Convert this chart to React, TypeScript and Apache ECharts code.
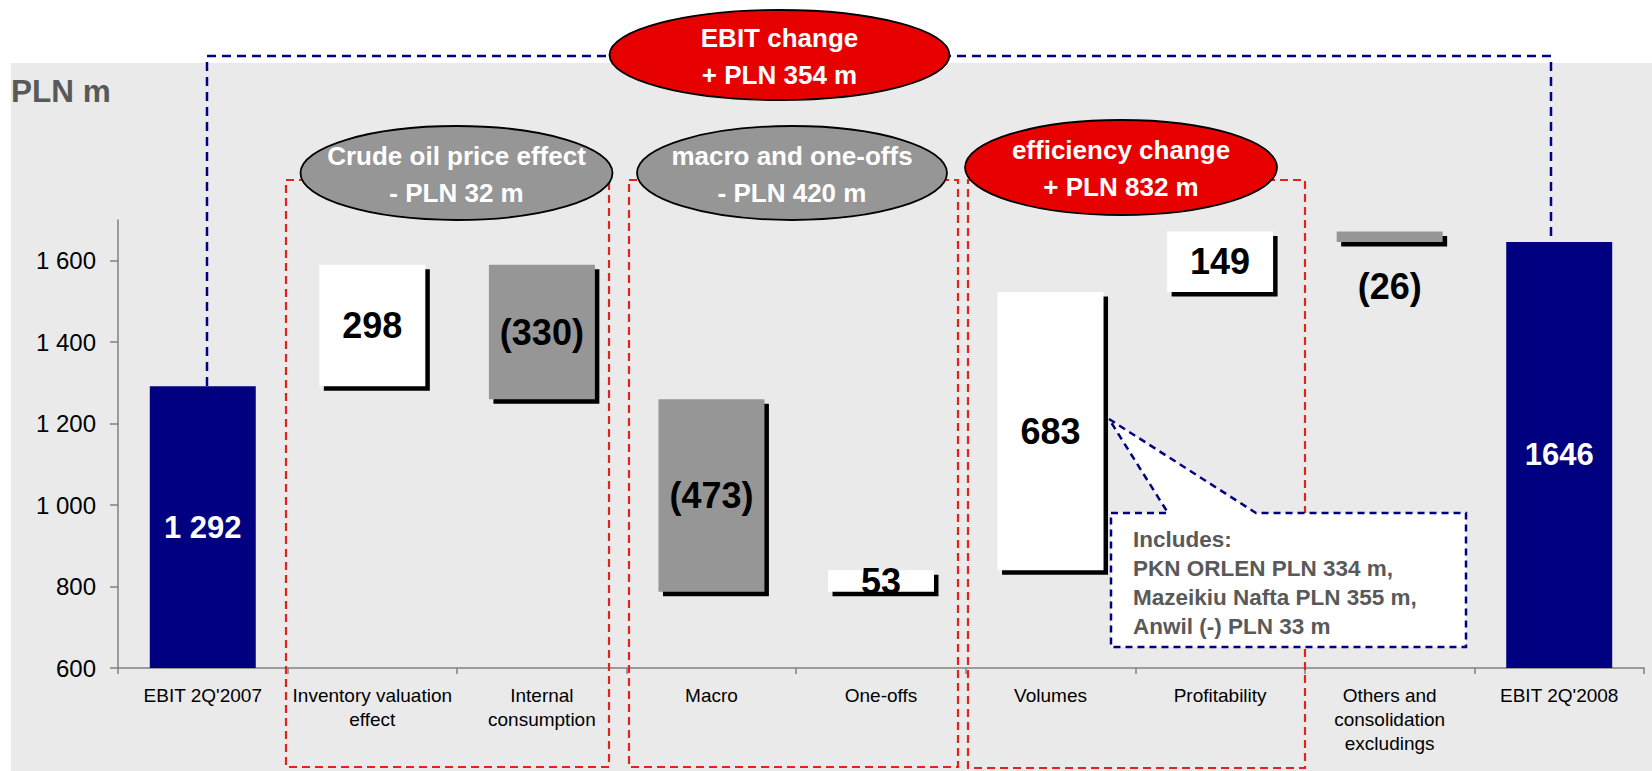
import React, { useEffect, useRef } from "react";
import * as echarts from "echarts";

const categories = [
  "EBIT 2Q'2007",
  "Inventory valuation\neffect",
  "Internal\nconsumption",
  "Macro",
  "One-offs",
  "Volumes",
  "Profitability",
  "Others and\nconsolidation\nexcludings",
  "EBIT 2Q'2008",
];
const changes = [1292, 298, -330, -473, 53, 683, 149, -26, 1646];
const isTotal = [true, false, false, false, false, false, false, false, true];
const valueLabels = ["1 292", "298", "(330)", "(473)", "53", "683", "149", "(26)", "1646"];
const yTicks = [600, 800, 1000, 1200, 1400, 1600];
const yMin = 600;
const yMax = 1700;

const headline = ["EBIT change", "+ PLN 354 m"];
const groupTitles = [
  ["Crude oil price effect", "- PLN 32 m"],
  ["macro and one-offs", "- PLN 420 m"],
  ["efficiency change", "+ PLN 832 m"],
];
const calloutLines = [
  "Includes:",
  "PKN ORLEN PLN 334 m,",
  "Mazeikiu Nafta PLN 355 m,",
  "Anwil (-) PLN 33 m",
];
const unitTitle = "PLN m";

const FONT = '"Liberation Sans", Arial, sans-serif';
const NAVY = "#000080";
const GREY = "#969696";
const RED = "#E60000";
const RED_LINE = "#E2231A";

function buildData() {
  let run = 0;
  return changes.map((d, i) => {
    if (isTotal[i]) {
      run = d;
      return [i, yMin, d, 0];
    }
    const lo = d >= 0 ? run : run + d;
    const hi = d >= 0 ? run + d : run;
    run += d;
    return [i, lo, hi, d >= 0 ? 1 : 2];
  });
}

export default function App() {
  const ref = useRef<HTMLDivElement>(null);

  useEffect(() => {
    if (!ref.current) return;
    const chart = echarts.init(ref.current, undefined, { renderer: "svg" });
    const data = buildData();

    const ellipse = (cx: number, cy: number, rx: number, ry: number, fill: string, lines: string[]) => [
      {
        type: "ellipse",
        z: 20,
        shape: { cx, cy, rx, ry },
        style: { fill, stroke: "#000", lineWidth: 1.8 },
      },
      {
        type: "text",
        z: 21,
        x: cx,
        y: cy + 1,
        style: {
          text: lines.join("\n"),
          fill: "#fff",
          font: `bold 26px ${FONT}`,
          align: "center",
          verticalAlign: "middle",
          lineHeight: 37,
        },
      },
    ];

    const redRect = (x1: number, x2: number, y1: number, y2: number) => ({
      type: "rect",
      z: 5,
      shape: { x: x1, y: y1, width: x2 - x1, height: y2 - y1 },
      style: { fill: "none", stroke: RED_LINE, lineWidth: 2.2, lineDash: [8, 5] },
    });

    const option: any = {
      animation: false,
      grid: { left: 118, right: 8, top: 220, height: 448 },
      xAxis: {
        type: "category",
        data: categories,
        axisLine: { lineStyle: { color: "#808080", width: 1.5 } },
        axisTick: { show: true, length: 6, interval: 0, lineStyle: { color: "#808080", width: 1.5 } },
        axisLabel: {
          interval: 0,
          color: "#000",
          fontFamily: FONT,
          fontSize: 19,
          lineHeight: 24,
          margin: 15,
        },
      },
      yAxis: {
        type: "value",
        min: yMin,
        max: yMax,
        interval: 200,
        splitLine: { show: false },
        axisLine: { show: true, lineStyle: { color: "#808080", width: 1.5 } },
        axisTick: {
          show: true,
          length: 8,
          customValues: yTicks,
          lineStyle: { color: "#808080", width: 1.5 },
        },
        axisLabel: {
          customValues: yTicks,
          color: "#000",
          fontFamily: FONT,
          fontSize: 24,
          margin: 22,
          formatter: (v: number) =>
            v > yTicks[yTicks.length - 1] ? "" : String(v).replace(/\B(?=(\d{3})+(?!\d))/g, " "),
        },
      },
      series: [
        {
          type: "custom",
          data,
          encode: { x: 0, y: [1, 2] },
          renderItem: (params: any, api: any) => {
            const i = api.value(0);
            const lo = api.value(1);
            const hi = api.value(2);
            const kind = api.value(3);
            const w = api.size([1, 0])[0] * 0.625;
            const pTop = api.coord([i, hi]);
            const pBot = api.coord([i, lo]);
            const x = pTop[0] - w / 2;
            const y = pTop[1];
            const h = pBot[1] - pTop[1];
            const fill = kind === 0 ? NAVY : kind === 1 ? "#ffffff" : GREY;
            const children: any[] = [];
            if (kind !== 0) {
              children.push({
                type: "rect",
                shape: { x: x + 4.5, y: y + 4.5, width: w, height: h },
                style: { fill: "#000" },
              });
            }
            children.push({
              type: "rect",
              shape: { x, y, width: w, height: h },
              style: { fill },
            });
            const idx = params.dataIndex;
            const thin = kind !== 0 && Math.abs(changes[idx]) < 40;
            const labelBelow = thin && changes[idx] < 0;
            children.push({
              type: "text",
              z2: 10,
              style: {
                text: valueLabels[idx],
                x: pTop[0],
                y: labelBelow ? pBot[1] + 45 : y + h / 2,
                align: "center",
                verticalAlign: "middle",
                fill: kind === 0 ? "#fff" : "#000",
                font: kind === 0 ? `bold 31px ${FONT}` : `bold 36px ${FONT}`,
              },
            });
            return { type: "group", children };
          },
        },
      ],
      graphic: [
        {
          type: "text",
          z: 20,
          x: 11,
          y: 91,
          style: {
            text: unitTitle,
            fill: "#595959",
            font: `bold 31.5px ${FONT}`,
            verticalAlign: "middle",
          },
        },
        {
          type: "polyline",
          z: 4,
          shape: { points: [[207, 386], [207, 56], [1551, 56], [1551, 242]] },
          style: { fill: "none", stroke: NAVY, lineWidth: 2.5, lineDash: [9, 6] },
        },
        redRect(286, 609, 180, 767),
        redRect(629, 958, 180, 767),
        redRect(968, 1305, 180, 768),
        ...ellipse(779.5, 55, 170, 45, RED, headline),
        ...ellipse(456.5, 173, 156, 47, GREY, groupTitles[0]),
        ...ellipse(792, 173, 155, 47, GREY, groupTitles[1]),
        ...ellipse(1121, 167.5, 156, 47.5, RED, groupTitles[2]),
        {
          type: "polygon",
          z: 15,
          shape: {
            points: [
              [1111, 513],
              [1168, 513],
              [1109, 419],
              [1256, 513],
              [1466, 513],
              [1466, 647],
              [1111, 647],
            ],
          },
          style: { fill: "#fff", stroke: NAVY, lineWidth: 2.5, lineDash: [7, 5] },
        },
        {
          type: "text",
          z: 16,
          x: 1133,
          y: 583,
          style: {
            text: calloutLines.join("\n"),
            fill: "#595959",
            font: `bold 22.5px ${FONT}`,
            lineHeight: 28.7,
            verticalAlign: "middle",
          },
        },
      ],
    };
    chart.setOption(option);
    return () => chart.dispose();
  }, []);

  return (
    <div style={{ position: "absolute", left: 0, top: 0, width: 1652, height: 771, background: "#fff" }}>
      <div
        style={{ position: "absolute", left: 11, top: 63, width: 1641, height: 708, background: "#EAEAEA" }}
      />
      <div ref={ref} style={{ position: "absolute", left: 0, top: 0, width: 1652, height: 771 }} />
    </div>
  );
}
